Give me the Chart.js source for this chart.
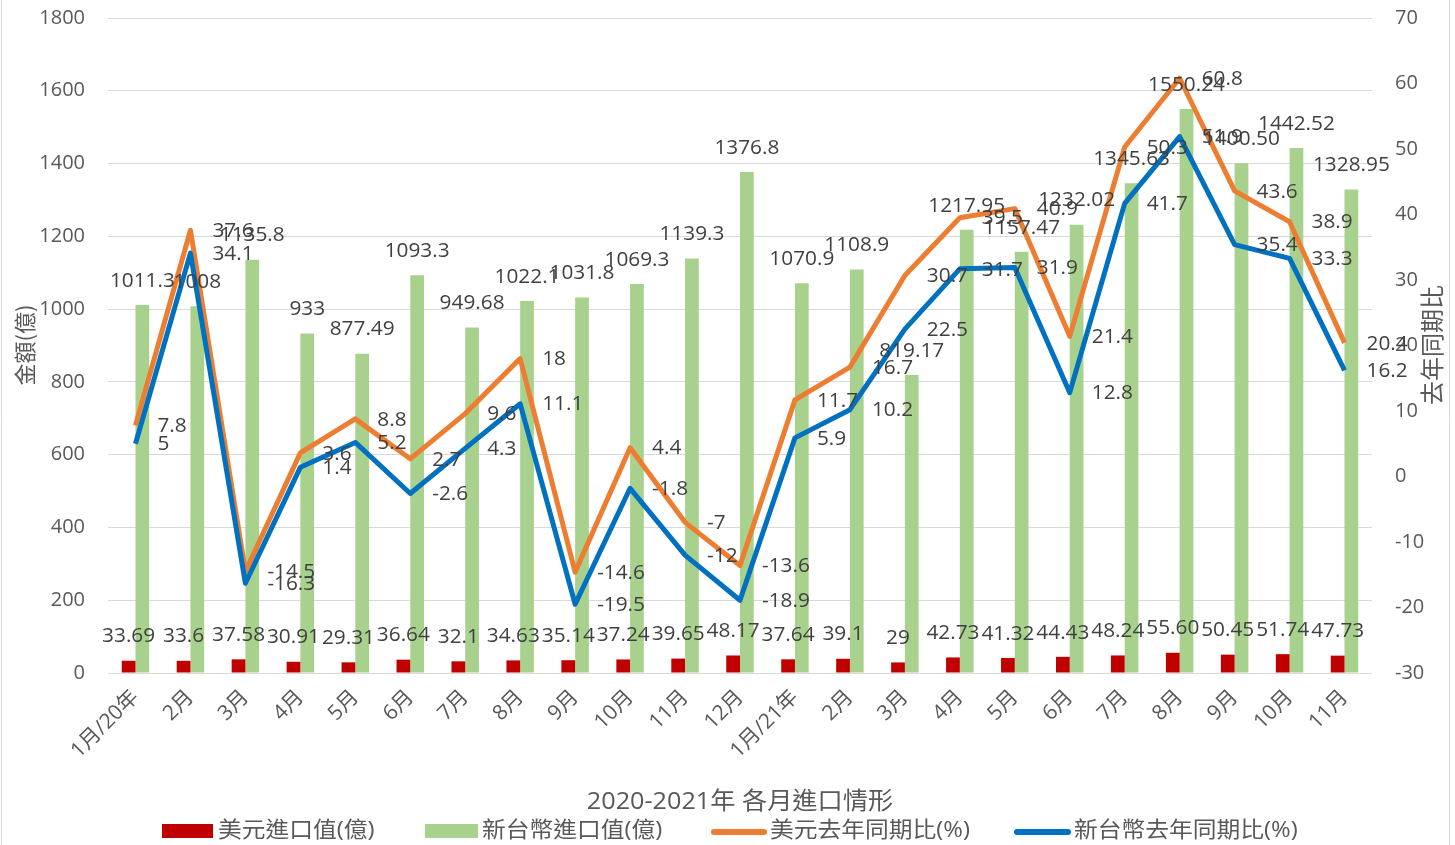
<!DOCTYPE html>
<html>
<head>
<meta charset="utf-8">
<script src="https://cdn.jsdelivr.net/npm/chart.js@4/dist/chart.umd.min.js"></script>
<style>
  html, body { margin: 0; padding: 0; background: #ffffff; }
  #wrap { width: 1455px; height: 845px; position: relative; }
</style>
</head>
<body>
<div id="wrap"><canvas id="c" width="1455" height="845"></canvas></div>
<script>
// ---- Data ----
const categories = ['1月/20年','2月','3月','4月','5月','6月','7月','8月','9月','10月','11月','12月',
                    '1月/21年','2月','3月','4月','5月','6月','7月','8月','9月','10月','11月'];
const usdImport = ['33.69','33.6','37.58','30.91','29.31','36.64','32.1','34.63','35.14','37.24','39.65','48.17',
                   '37.64','39.1','29','42.73','41.32','44.43','48.24','55.60','50.45','51.74','47.73'];
const twdImport = ['1011.3','1008','1135.8','933','877.49','1093.3','949.68','1022.1','1031.8','1069.3','1139.3','1376.8',
                   '1070.9','1108.9','819.17','1217.95','1157.47','1232.02','1345.63','1550.24','1400.50','1442.52','1328.95'];
const usdYoY = [7.8, 37.6, -14.5, 3.6, 8.8, 2.7, 9.6, 18, -14.6, 4.4, -7, -13.6,
                11.7, 16.7, 30.7, 39.5, 40.9, 21.4, 50.3, 60.8, 43.6, 38.9, 20.4];
const twdYoY = [5, 34.1, -16.3, 1.4, 5.2, -2.6, 4.3, 11.1, -19.5, -1.8, -12, -18.9,
                5.9, 10.2, 22.5, 31.7, 31.9, 12.8, 41.7, 51.9, 35.4, 33.3, 16.2];
const seriesNames = ['美元進口值(億)', '新台幣進口值(億)', '美元去年同期比(%)', '新台幣去年同期比(%)'];
const chartTitle = '2020-2021年 各月進口情形';
const leftAxisTitle = '金額(億)';
const rightAxisTitle = '去年同期比';

const COLORS = ['#C00000', '#A9D18E', '#ED7D31', '#0070C0'];
const FONT = "'Open Sans', 'Noto Sans CJK TC', sans-serif";
const CJK = "'Noto Sans CJK TC', 'Open Sans', sans-serif";

function stretchedText(ctx, text, x, y, sx) {
  ctx.save();
  ctx.translate(x, y);
  ctx.scale(sx, 1);
  ctx.fillText(text, 0, 0);
  ctx.restore();
}

const labelPlugin = {
  id: 'customLabels',
  afterDatasetsDraw(chart) {
    const ctx = chart.ctx;
    ctx.save();
    ctx.fillStyle = '#404040';
    ctx.font = '20px ' + FONT;
    ctx.textBaseline = 'middle';
    [0, 1].forEach(di => {
      const meta = chart.getDatasetMeta(di);
      const texts = chart.data.datasets[di].labelsText;
      ctx.textAlign = 'center';
      meta.data.forEach((el, i) => {
        stretchedText(ctx, texts[i], el.x, el.y - 24, 1.04);
      });
    });
    [2, 3].forEach(di => {
      const meta = chart.getDatasetMeta(di);
      const vals = chart.data.datasets[di].data;
      ctx.textAlign = 'left';
      meta.data.forEach((el, i) => {
        stretchedText(ctx, String(vals[i]), el.x + 22, el.y + 1, 1.04);
      });
    });
    ctx.restore();
  },
  afterDraw(chart) {
    const ctx = chart.ctx;
    ctx.save();
    ctx.strokeStyle = '#d9d9d9';
    ctx.lineWidth = 1;
    ctx.beginPath();
    ctx.moveTo(1.5, 0); ctx.lineTo(1.5, 845);
    ctx.moveTo(1449.5, 0); ctx.lineTo(1449.5, 845);
    ctx.stroke();

    ctx.fillStyle = '#595959';
    ctx.textAlign = 'center';
    ctx.textBaseline = 'middle';
    ctx.font = '22px ' + CJK;
    ctx.save();
    ctx.translate(25, 345);
    ctx.rotate(-Math.PI / 2);
    ctx.fillText(leftAxisTitle, 0, 0);
    ctx.restore();
    ctx.save();
    ctx.font = '24px ' + CJK;
    ctx.translate(1432, 345);
    ctx.rotate(-Math.PI / 2);
    ctx.fillText(rightAxisTitle, 0, 0);
    ctx.restore();

    ctx.font = '24px ' + FONT;
    stretchedText(ctx, chartTitle, 740, 802, 1.05);

    const items = [
      {type: 'box', x0: 162, x1: 213, tx: 218},
      {type: 'box', x0: 425, x1: 478, tx: 482},
      {type: 'line', x0: 714, x1: 764, tx: 770},
      {type: 'line', x0: 1017, x1: 1068, tx: 1074}
    ];
    const ly = 831;
    ctx.font = '22px ' + FONT;
    ctx.textAlign = 'left';
    items.forEach((it, i) => {
      if (it.type === 'box') {
        ctx.fillStyle = COLORS[i];
        ctx.fillRect(it.x0, ly - 7, it.x1 - it.x0, 14);
      } else {
        ctx.strokeStyle = COLORS[i];
        ctx.lineWidth = 6;
        ctx.lineCap = 'round';
        ctx.beginPath();
        ctx.moveTo(it.x0, ly + 1);
        ctx.lineTo(it.x1, ly + 1);
        ctx.stroke();
      }
      ctx.fillStyle = '#595959';
      stretchedText(ctx, seriesNames[i], it.tx, ly, 1.08);
    });
    ctx.restore();
  }
};

new Chart(document.getElementById('c'), {
  data: {
    labels: categories,
    datasets: [
      {type: 'bar', label: seriesNames[0], data: usdImport.map(Number), labelsText: usdImport,
       backgroundColor: COLORS[0], yAxisID: 'y', order: 2, barPercentage: 1.0, categoryPercentage: 0.5},
      {type: 'bar', label: seriesNames[1], data: twdImport.map(Number), labelsText: twdImport,
       backgroundColor: COLORS[1], yAxisID: 'y', order: 2, barPercentage: 1.0, categoryPercentage: 0.5},
      {type: 'line', label: seriesNames[2], data: usdYoY, borderColor: COLORS[2], backgroundColor: COLORS[2],
       borderWidth: 5, pointRadius: 0, tension: 0, yAxisID: 'y1', order: 1, borderJoinStyle: 'round'},
      {type: 'line', label: seriesNames[3], data: twdYoY, borderColor: COLORS[3], backgroundColor: COLORS[3],
       borderWidth: 5, pointRadius: 0, tension: 0, yAxisID: 'y1', order: 0, borderJoinStyle: 'round'}
    ]
  },
  options: {
    responsive: false,
    animation: false,
    devicePixelRatio: 1,
    layout: { padding: { top: 18, left: 0, right: 0, bottom: 62 } },
    plugins: {
      legend: { display: false },
      title: { display: false },
      tooltip: { enabled: false }
    },
    scales: {
      x: {
        offset: true,
        grid: { display: false },
        border: { display: false },
        ticks: { color: '#595959', font: { size: 21, family: FONT }, maxRotation: 45, minRotation: 45, autoSkip: false, padding: 4 },
        afterFit: (s) => { s.height = 110; }
      },
      y: {
        position: 'left',
        min: 0, max: 1800,
        grid: { color: '#d9d9d9', lineWidth: 1, drawTicks: false },
        border: { display: false },
        ticks: { stepSize: 200, color: '#595959', font: { size: 20, family: FONT }, padding: 23,
                 callback: (v) => String(v) },
        afterFit: (s) => { s.width = 108; s.paddingTop = 0; s.paddingBottom = 0; }
      },
      y1: {
        position: 'right',
        min: -30, max: 70,
        grid: { display: false, drawTicks: false },
        border: { display: false },
        ticks: { stepSize: 10, color: '#595959', font: { size: 20, family: FONT }, padding: 23,
                 callback: (v) => String(v) },
        afterFit: (s) => { s.width = 83; s.paddingTop = 0; s.paddingBottom = 0; }
      }
    }
  },
  plugins: [labelPlugin]
});
</script>
</body>
</html>
